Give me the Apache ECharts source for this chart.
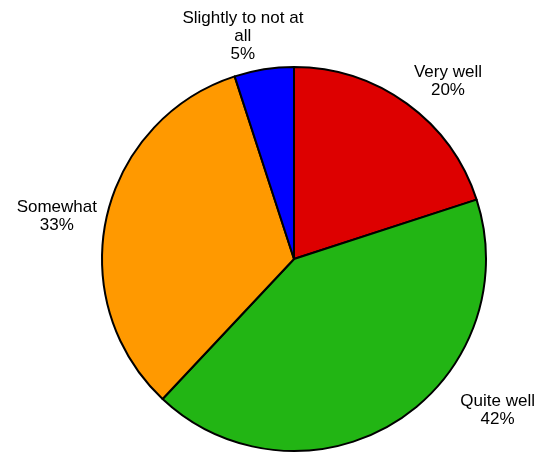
<!DOCTYPE html>
<html>
<head>
<meta charset="utf-8">
<script src="https://cdn.jsdelivr.net/npm/echarts@6/dist/echarts.min.js"></script>
<style>
html, body { margin: 0; padding: 0; background: #fff; }
#main { width: 541px; height: 453px; }
</style>
</head>
<body>
<div id="main"></div>
<script>
// categories, clockwise from 12 o'clock
var categories = ["Very well", "Quite well", "Somewhat", "Slightly to not at\nall"];
var shares = [20, 42, 33, 5];
var colors = ["#dd0000", "#22b514", "#ff9900", "#0000ff"];

// label nudges away from the default outside spot (layout only)
var labelShift = [[32, -17], [92, -17], [-38, 1], [-15, -26]];

var data = [];
for (var i = 0; i < categories.length; i++) {
    data.push({
        name: categories[i],
        value: shares[i],
        itemStyle: { color: colors[i] }
    });
}

var myChart = echarts.init(document.getElementById("main"));
myChart.setOption({
    animation: false,
    series: [{
        type: "pie",
        center: [294, 259],
        radius: 192,
        startAngle: 90,
        clockwise: true,
        avoidLabelOverlap: false,
        data: data,
        itemStyle: {
            borderColor: "#000",
            borderWidth: 2
        },
        label: {
            show: true,
            position: "outside",
            formatter: "{b}\n{d}%",
            fontFamily: "Liberation Sans, Arial, sans-serif",
            fontSize: 17,
            lineHeight: 18,
            color: "#000"
        },
        labelLine: { show: false, length: 7, length2: 0 },
        labelLayout: function(params) {
            var s = labelShift[params.dataIndex];
            return { align: "center", dx: s[0], dy: s[1] };
        },
        emphasis: { disabled: true }
    }]
});
</script>
</body>
</html>
